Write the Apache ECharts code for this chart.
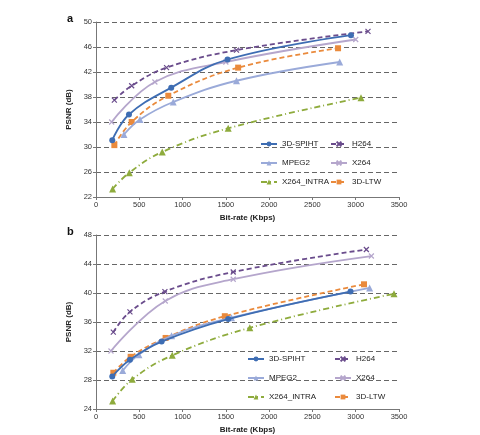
<!DOCTYPE html>
<html style="height: 100%">
<head>
<meta charset="utf-8">
<title>PSNR vs bit-rate</title>
</head>
<body style="height: 100%; margin: 0; background: #fff">
<div id="container" style="width: 480px; height: 435px"></div>
<script type="text/javascript" src="https://cdn.jsdelivr.net/npm/echarts@6/dist/echarts.min.js"></script>
<script type="text/javascript">
// series names
var names = ['3D-SPIHT', 'H264', 'MPEG2', 'X264', 'X264_INTRA', '3D-LTW'];

// panel a  [bit-rate Kbps, PSNR dB]
var aSpiht = [[188, 31.1], [381, 35.2], [869, 39.5], [1519, 44.0], [2945, 47.9]];
var aH264  = [[212, 37.5], [412, 39.8], [815, 42.7], [1623, 45.5], [3142, 48.5]];
var aMpeg2 = [[323, 32.0], [508, 34.4], [892, 37.2], [1623, 40.6], [2815, 43.6]];
var aX264  = [[181, 34.0], [680, 40.4], [1500, 43.6], [3000, 47.2]];
var aIntra = [[192, 23.3], [385, 25.9], [765, 29.2], [1527, 33.0], [3061, 37.9]];
var aLtw   = [[212, 30.3], [412, 34.0], [835, 38.2], [1642, 42.7], [2796, 45.8]];

// panel b
var bSpiht = [[188, 28.5], [392, 30.8], [758, 33.3], [1527, 36.4], [2940, 40.2]];
var bH264  = [[200, 34.6], [392, 37.4], [796, 40.2], [1585, 42.9], [3123, 46.0]];
var bMpeg2 = [[308, 29.3], [496, 31.5], [873, 34.1], [1565, 36.6], [3161, 40.7]];
var bX264  = [[173, 32.0], [800, 38.9], [1585, 41.9], [3181, 45.1]];
var bIntra = [[192, 25.1], [419, 28.1], [881, 31.4], [1777, 35.2], [3442, 39.9]];
var bLtw   = [[200, 29.0], [400, 31.2], [804, 33.8], [1488, 36.8], [3096, 41.2]];

var colors = ['#3e6db3', '#6a4c8c', '#9aaad9', '#b5a6cc', '#8eab3c', '#ea8a3c'];
var cross = 'path://M0,0L10,10M10,0L0,10';
var styles = [
    {symbol: 'circle', size: 6, line: 'solid'},
    {symbol: cross, size: 5, line: [5, 3]},
    {symbol: 'triangle', size: 7, line: 'solid'},
    {symbol: cross, size: 5, line: 'solid'},
    {symbol: 'triangle', size: 7, line: [6, 3, 1, 3]},
    {symbol: 'rect', size: 6, line: [5, 3]}
];

var font = 'Liberation Sans';

function makeSeries(dataList, idx) {
    return dataList.map(function (d, i) {
        var s = styles[i];
        return {
            name: names[i],
            type: 'line',
            xAxisIndex: idx,
            yAxisIndex: idx,
            data: d,
            smooth: 0.4,
            symbol: s.symbol,
            symbolSize: s.size,
            showAllSymbol: true,
            itemStyle: {color: colors[i], borderColor: colors[i], borderWidth: s.symbol === cross ? 1.2 : 0},
            lineStyle: {color: colors[i], width: 1.8, type: s.line},
            z: 10 - i
        };
    });
}

function xAxis(idx) {
    return {
        gridIndex: idx, type: 'value', min: 0, max: 3500, interval: 500,
        name: 'Bit-rate (Kbps)', nameLocation: 'middle', nameGap: 17,
        nameTextStyle: {fontFamily: font, fontSize: 8, fontWeight: 'bold', color: '#222'},
        axisLine: {lineStyle: {color: '#777', width: 1}},
        axisTick: {show: true, inside: false, length: 3, lineStyle: {color: '#777'}},
        axisLabel: {fontFamily: font, fontSize: 7.5, color: '#333', margin: 4,
            formatter: function (v) { return String(v); }},
        splitLine: {show: false}
    };
}

function yAxis(idx, min, max) {
    return {
        gridIndex: idx, type: 'value', min: min, max: max, interval: 4,
        name: 'PSNR (dB)', nameLocation: 'middle', nameGap: 20, nameRotate: 90,
        nameTextStyle: {fontFamily: font, fontSize: 8, fontWeight: 'bold', color: '#222'},
        axisLine: {show: true, lineStyle: {color: '#777', width: 1}},
        axisTick: {show: true, length: 3, lineStyle: {color: '#777'}},
        axisLabel: {fontFamily: font, fontSize: 7.5, color: '#333', margin: 4},
        splitLine: {show: true, lineStyle: {color: '#666', width: 1.2, type: [5, 3]}}
    };
}

function legend(data, left, top) {
    return {
        data: data, orient: 'vertical', left: left, top: top,
        itemWidth: 16, itemHeight: 6, itemGap: 11,
        textStyle: {fontFamily: font, fontSize: 8, color: '#222'},
        selectedMode: false
    };
}

var dom = document.getElementById('container');
var myChart = echarts.init(dom);

var option = {
    backgroundColor: '#fff',
    animation: false,
    title: [
        {text: 'a', left: 62, top: 8, textStyle: {fontFamily: font, fontSize: 11, fontWeight: 'bold', color: '#111'}},
        {text: 'b', left: 62, top: 221, textStyle: {fontFamily: font, fontSize: 11, fontWeight: 'bold', color: '#111'}}
    ],
    grid: [
        {left: 96, top: 22, width: 303, height: 175},
        {left: 96, top: 235, width: 303, height: 174}
    ],
    xAxis: [xAxis(0), xAxis(1)],
    yAxis: [yAxis(0, 22, 50), yAxis(1, 24, 48)],
    legend: [
        legend(['3D-SPIHT', 'MPEG2', 'X264_INTRA'], 255, 135),
        legend(['H264', 'X264', '3D-LTW'], 325, 135),
        legend(['3D-SPIHT', 'MPEG2', 'X264_INTRA'], 242, 350),
        legend(['H264', 'X264', '3D-LTW'], 329, 350)
    ],
    series: makeSeries([aSpiht, aH264, aMpeg2, aX264, aIntra, aLtw], 0)
        .concat(makeSeries([bSpiht, bH264, bMpeg2, bX264, bIntra, bLtw], 1))
};

if (option && typeof option === 'object') {
    myChart.setOption(option, true);
}
</script>
</body>
</html>
